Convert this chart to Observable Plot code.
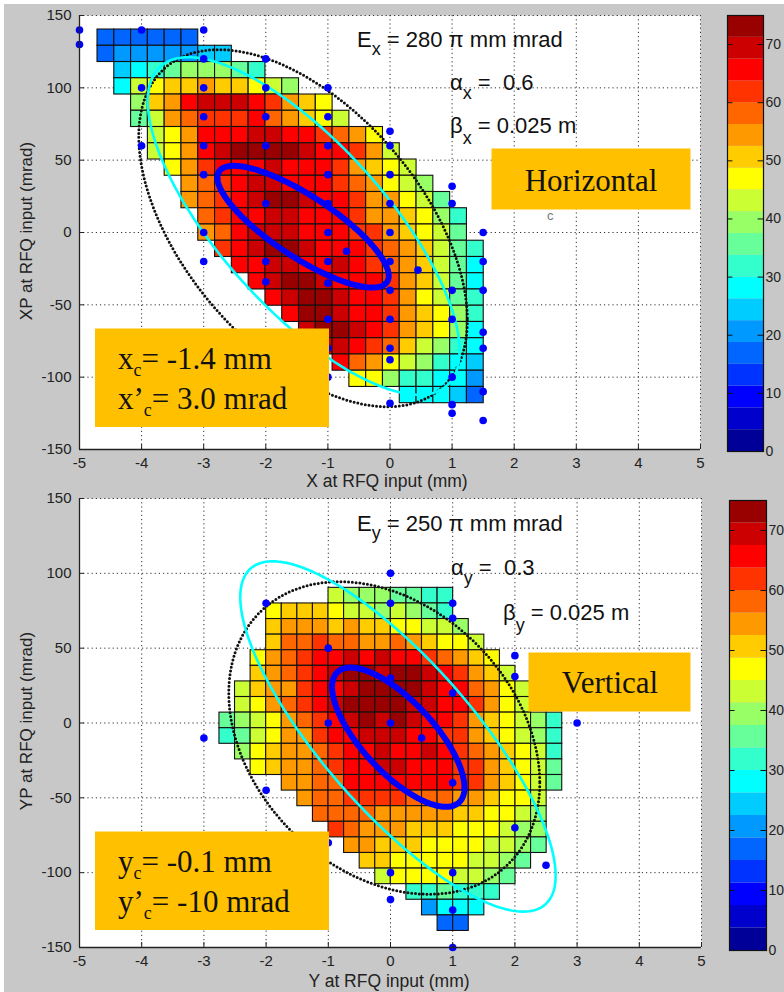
<!DOCTYPE html>
<html><head><meta charset="utf-8">
<script src="https://cdn.jsdelivr.net/npm/d3@7"></script>
<script src="https://cdn.jsdelivr.net/npm/@observablehq/plot@0.6"></script>
<style>
body{margin:0;background:#fff;}
#root{position:relative;width:784px;height:992px;overflow:hidden;background:#fff;font-family:"Liberation Sans",Arial,sans-serif;}
.abs{position:absolute;}
#ov text{white-space:pre;}
</style></head><body>
<div id="root">
 <div class="abs" style="left:4px;top:4px;width:780px;height:988px;background:#c8c8c8"></div>
 <div id="pTop" class="abs" style="left:0;top:0"></div>
 <div id="pBot" class="abs" style="left:0;top:485px"></div>
 <div id="cTop" class="abs" style="left:700px;top:0"></div>
 <div id="cBot" class="abs" style="left:700px;top:492px"></div>
 <svg id="ov" class="abs" style="left:0;top:0" width="784" height="992"></svg>
</div>
<script>
// ---------- axes / ticks ----------
const xTicks = [-5,-4,-3,-2,-1,0,1,2,3,4,5];
const yTicks = [-150,-100,-50,0,50,100,150];
const cbTicks = [0,10,20,30,40,50,60,70];
const cbMax = 75;
const nLevels = 20;

// ---------- heat-map grids (cell origin / size in data units) ----------
const topGrid = {x0:-4.71, dx:0.2704, y0:140.3, dy:11.23};
const botGrid = {x0:-2.75, dx:0.2505, y0:90.3, dy:10.42};
// each row: [first column, colour level per cell (0-9,a-j = level 0..19)]
const topRows = [
 [0,"444444"],[0,"45555566"],[1,"6789aaa98"],[1,"7bcddeddcba"],[2,"adehiiihgedc"],
 [2,"9befggghfedcb"],[3,"bcehhhiihhgfec"],[3,"bcehijjjjihhgeb"],[4,"ceghhhihhhgedcb"],
 [5,"efghiihhhgfecba"],[5,"efghijjihhgeecb9"],[6,"fghhiihhhgeedca8"],[6,"efhiiihhhggedcb9"],
 [7,"ghijjihhhgfedb98"],[8,"hhiihhihgfedb97"],[9,"hijjihhhgedb97"],[10,"hijjihhgecb98"],
 [11,"hjjihhgedca8"],[12,"ijjihgedca7"],[13,"iihgfdba87"],[14,"hfecba876"],[15,"cca88775"],[18,"77764"]
];
const botRows = [
 [7,"baaa9988"],[3,"cdddcbbaba98"],[3,"deeededdccbba"],[3,"dffgffeefedccb"],[2,"cefghhihihhgfedc"],
 [2,"defghijjijjihgedb"],[1,"bdeeghhijjjjihhfecb"],[1,"bcefghijjjjiihhgecb"],[0,"9abcefghijijihhgedcba8"],
 [0,"89bceeghhiiihhggedcba8"],[1,"acdeefghhihhihgfedcb8"],[2,"cdeefghhiihhhggedcb9"],[4,"eeffhhhhhhhggedcb9"],
 [5,"effggggfffeedccb"],[6,"ffffeeeeeddccba"],[7,"gfeeedddcccbaa"],[8,"eedddccccbba9"],
 [9,"ddcccccbba9"],[10,"bccccbba9"],[12,"889888"],[13,"5777"],[14,"44"]
];

// ---------- measured points ----------
const topDots = [[-5,140],[-5,130],[-4,140],[-3,140],[-3,120],[-2,120],[-4,100],[-3,100],[-2,100],[-1,100],
 [-3,80],[-2,80],[-1,80],[-4,60],[-3,60],[-2,60],[-1,60],[0,70],[0,60],[-3,40],[-1,40],[0,40],[1,32],
 [-2,20],[-1,20],[0,20],[1,20],[-3,0],[-1,0],[0,0],[1.5,0],[-3,-20],[-2,-20],[-1,-20],[0,-20],[1.5,-20],
 [0.45,-26],[-0.7,-13],[-2,-34],[-1,-35],[0,-40],[1,-40],[1.5,-40],[-1,-60],[0,-60],[1,-60],[1.5,-69],
 [-1,-80],[0,-80],[1.5,-80],[0,-88],[-1,-100],[1,-100],[1.5,-110],[0,-118],[1,-119],[1,-125],[1.5,-130]];
const botDots = [[-2,80],[-1,50],[0,100],[0,80],[0,30],[-1,0],[0,0],[-3,-10],[1,80],[1,70],[2,45],[2,31],
 [1,20],[3,0],[0.5,-10],[-2,-45],[-1,-80],[0,-100],[0,-118],[1,-100],[1,-125],[1,-150],[2,-70],[2.5,-95],[1,-40]];

// ---------- ellipses (Twiss parameters) ----------
const hMeas  = {eps:280, alpha:0.6,  beta:0.025,  xc:-1.4,  yc:3.0};
const hCyan  = {eps:197, alpha:1.10, beta:0.032,  xc:-1.39, yc:4.5};
const hBlue  = {eps:34.2,alpha:1.37, beta:0.0556, xc:-1.4,  yc:4.0};
const vMeas  = {eps:250, alpha:0.3,  beta:0.025,  xc:-0.1,  yc:-10};
const vCyan  = {eps:180, alpha:1.31, beta:0.0357, xc:0.12,  yc:-9};
const vBlue  = {eps:34.3,alpha:1.04, beta:0.033,  xc:0.125, yc:-9.5};

function twissEllipse(e, n = 360) {
  return d3.range(n).map(i => {
    const p = 2 * Math.PI * i / n, c = Math.cos(p), s = Math.sin(p);
    return {x: e.xc + Math.sqrt(e.eps * e.beta) * c, y: e.yc - Math.sqrt(e.eps / e.beta) * (e.alpha * c + s)};
  });
}
function jet(t) {
  const cl = v => Math.max(0, Math.min(1, v));
  const r = cl(1.5 - Math.abs(4*t - 3)), g = cl(1.5 - Math.abs(4*t - 2)), b = cl(1.5 - Math.abs(4*t - 1));
  return d3.rgb(r*255, g*255, b*255).formatHex();
}
const jetColors = d3.range(nLevels).map(i => jet((i + 0.5) / nLevels));
const thresholds = d3.range(1, nLevels).map(i => i * cbMax / nLevels);
const colorScale = {type: "threshold", domain: thresholds, range: jetColors};

function buildCells(rows, g) {
  const cells = [];
  rows.forEach(([start, lv], r) => [...lv].forEach((ch, k) => {
    const c = start + k, lev = parseInt(ch, 20);
    cells.push({x1: g.x0 + c*g.dx, x2: g.x0 + (c+1)*g.dx, y1: g.y0 - (r+1)*g.dy, y2: g.y0 - r*g.dy, v: (lev + 0.5) * cbMax / nLevels});
  }));
  return cells;
}

function panel({rows, grid, dots, eBlack, eCyan, eBlue, height, marginTop, marginBottom, marginRight}) {
  const plotH = height - marginTop - marginBottom, plotW = 720 - 79 - marginRight;
  const tY = 5 * 300 / plotH, tX = 5 * 10 / plotW;
  const P = {x: "x", y: "y", curve: "linear-closed"};
  return Plot.plot({
    width: 720, height, marginLeft: 79, marginRight, marginTop, marginBottom,
    style: {background: "transparent", fontFamily: "Liberation Sans, Arial, sans-serif", fontSize: "15px", color: "#222"},
    x: {domain: [-5, 5]}, y: {domain: [-150, 150]},
    color: colorScale,
    marks: [
      Plot.frame({fill: "white", stroke: null}),
      Plot.ruleX(xTicks, {stroke: "#333", strokeDasharray: "1.2,3"}),
      Plot.ruleY(yTicks, {stroke: "#333", strokeDasharray: "1.2,3"}),
      Plot.rect(buildCells(rows, grid), {x1: "x1", x2: "x2", y1: "y1", y2: "y2", fill: "v", stroke: "#111", strokeWidth: 1.1}),
      Plot.line(twissEllipse(eBlack, 420), {...P, stroke: "#111", strokeWidth: 3, strokeDasharray: "0,3.8", strokeLinecap: "round"}),
      Plot.line(twissEllipse(eCyan), {...P, stroke: "#00ffff", strokeWidth: 2.6}),
      Plot.line(twissEllipse(eBlue), {...P, stroke: "#0000ff", strokeWidth: 6}),
      Plot.dot(dots, {x: d => d[0], y: d => d[1], r: 3.8, fill: "#0000ff"}),
      Plot.ruleX([-5], {stroke: "#222", strokeWidth: 1.3}),
      Plot.ruleY([-150], {stroke: "#222", strokeWidth: 1.3}),
      Plot.ruleX(xTicks, {y1: -150, y2: -150 + tY, stroke: "#222"}),
      Plot.ruleY(yTicks, {x1: -5, x2: -5 + tX, stroke: "#222"}),
      Plot.axisX(xTicks, {tickSize: 0, tickPadding: 8, tickFormat: d => String(d), label: null, fontSize: 15}),
      Plot.axisY(yTicks, {tickSize: 0, tickPadding: 8, tickFormat: d => String(d), label: null, fontSize: 15})
    ]
  });
}

function colorbar({height, marginTop, marginBottom, marginLeft, marginRight}) {
  const bands = d3.range(nLevels).map(i => ({y1: i*cbMax/nLevels, y2: (i+1)*cbMax/nLevels, v: (i+0.5)*cbMax/nLevels}));
  return Plot.plot({
    width: 84, height, marginTop, marginBottom, marginLeft, marginRight,
    style: {background: "transparent", fontFamily: "Liberation Sans, Arial, sans-serif", fontSize: "14px", color: "#222"},
    x: {domain: [0, 1], axis: null}, y: {domain: [0, cbMax]},
    color: colorScale,
    marks: [
      Plot.rect(bands, {x1: 0, x2: 1, y1: "y1", y2: "y2", fill: "v"}),
      Plot.frame({stroke: "#111", strokeWidth: 1.2}),
      Plot.ruleY(cbTicks, {x1: 0.85, x2: 1, stroke: "#111"}),
      Plot.ruleY(cbTicks, {x1: 0, x2: 0.15, stroke: "#111"}),
      Plot.axisY(cbTicks, {anchor: "right", tickSize: 0, tickPadding: 2, tickFormat: d => String(d), label: null, fontSize: 14})
    ]
  });
}

document.getElementById("pTop").append(panel({rows: topRows, grid: topGrid, dots: topDots, eBlack: hMeas, eCyan: hCyan, eBlue: hBlue, height: 492, marginTop: 15, marginBottom: 43, marginRight: 20}));
document.getElementById("pBot").append(panel({rows: botRows, grid: botGrid, dots: botDots, eBlack: vMeas, eCyan: vCyan, eBlue: vBlue, height: 507, marginTop: 13, marginBottom: 45, marginRight: 19}));
document.getElementById("cTop").append(colorbar({height: 470, marginTop: 15, marginBottom: 19, marginLeft: 27, marginRight: 21}));
document.getElementById("cBot").append(colorbar({height: 470, marginTop: 8, marginBottom: 12, marginLeft: 29, marginRight: 18}));

// ---------- annotations ----------
const hCentre = {pos: -1.4, ang: 3.0};
const vCentre = {pos: -0.1, ang: -10};
const fmt1 = v => v.toFixed(1);
const sans = 'font-family="Liberation Sans, Arial, sans-serif"';
const serif = 'font-family="Liberation Serif, Times New Roman, serif"';
const box = "#ffc000";
function twissText(letter, p, yE, xA, yA, xB, yB) {
  return `
  <text x="357" y="${yE}" ${sans} font-size="22" fill="#111">E<tspan font-size="18" dy="8">${letter}</tspan><tspan dy="-8"> = ${p.eps} π mm mrad</tspan></text>
  <text x="${xA}" y="${yA}" ${sans} font-size="22" fill="#111">α<tspan font-size="18" dy="9">${letter}</tspan><tspan dy="-9"> =  ${p.alpha}</tspan></text>
  <text x="${xB}" y="${yB}" ${sans} font-size="22" fill="#111">β<tspan font-size="18" dy="11">${letter}</tspan><tspan dy="-11"> = ${p.beta} m</tspan></text>`;
}
function centreBox(letter, c, y0, unitAng) {
  return `
  <rect x="95" y="${y0}" width="234" height="98.5" fill="${box}"/>
  <text x="118" y="${y0 + 40}" ${serif} font-size="31" fill="#111">${letter}<tspan font-size="18" dy="7">c</tspan><tspan dy="-7">= ${fmt1(c.pos)} mm</tspan></text>
  <text x="118" y="${y0 + 80}" ${serif} font-size="31" fill="#111">${letter}’<tspan font-size="18" dy="7">c</tspan><tspan dy="-7">= ${unitAng}</tspan></text>`;
}
document.getElementById("ov").innerHTML = `
  ${twissText("x", hMeas, 47, 450, 90, 450, 133)}
  <rect x="491.5" y="148.5" width="199" height="61" fill="${box}"/>
  <text x="591" y="191" text-anchor="middle" ${serif} font-size="31" fill="#111">Horizontal</text>
  <text x="547" y="220" ${sans} font-size="13" fill="#777">c</text>
  ${centreBox("x", hCentre, 328.5, fmt1(hCentre.ang) + " mrad")}
  ${twissText("y", vMeas, 531, 451, 575, 503, 620)}
  <rect x="528.5" y="652.5" width="162" height="59" fill="${box}"/>
  <text x="610" y="693" text-anchor="middle" ${serif} font-size="31" fill="#111">Vertical</text>
  ${centreBox("y", vCentre, 831.5, vCentre.ang + " mrad")}
  <text x="387" y="487" text-anchor="middle" ${sans} font-size="17.5" fill="#222">X at RFQ input (mm)</text>
  <text x="389" y="987" text-anchor="middle" ${sans} font-size="17.5" fill="#222">Y at RFQ input (mm)</text>
  <text transform="translate(32,231) rotate(-90)" text-anchor="middle" ${sans} font-size="17" fill="#222">XP at RFQ input (mrad)</text>
  <text transform="translate(32,721) rotate(-90)" text-anchor="middle" ${sans} font-size="17" fill="#222">YP at RFQ input (mrad)</text>
`;
</script>
</body></html>
